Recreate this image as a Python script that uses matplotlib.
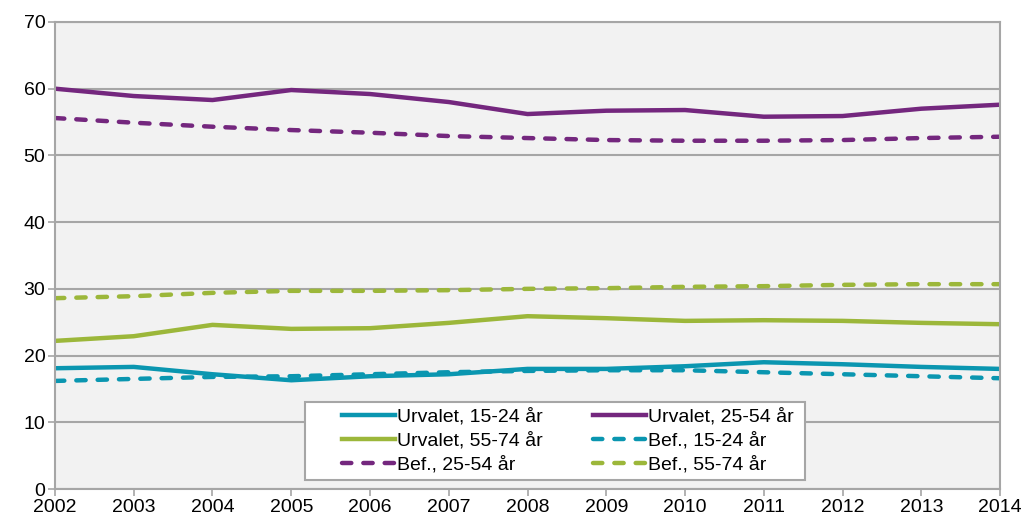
import matplotlib.pyplot as plt
from matplotlib.patches import Rectangle

plt.rcParams['font.family'] = ['Liberation Sans', 'DejaVu Sans']

years = list(range(2002, 2015))

# Andel (%) per grupp
urv_15_24 = [18.1, 18.3, 17.2, 16.3, 16.9, 17.2, 18.0, 18.0, 18.4, 19.0, 18.7, 18.3, 18.0]
urv_25_54 = [60.0, 58.9, 58.3, 59.8, 59.2, 58.0, 56.2, 56.7, 56.8, 55.8, 55.9, 57.0, 57.6]
urv_55_74 = [22.2, 22.9, 24.6, 24.0, 24.1, 24.9, 25.9, 25.6, 25.2, 25.3, 25.2, 24.9, 24.7]
bef_15_24 = [16.2, 16.5, 16.8, 16.9, 17.2, 17.5, 17.7, 17.8, 17.8, 17.5, 17.2, 16.9, 16.6]
bef_25_54 = [55.6, 54.9, 54.3, 53.8, 53.4, 52.9, 52.6, 52.3, 52.2, 52.2, 52.3, 52.6, 52.8]
bef_55_74 = [28.6, 28.9, 29.4, 29.7, 29.7, 29.8, 30.0, 30.1, 30.3, 30.4, 30.6, 30.7, 30.7]

teal = '#0A96B0'
purple = '#74277E'
green = '#9CB73A'

fig = plt.figure(figsize=(10.24, 5.23), dpi=100)
ax = fig.add_axes([0.0537, 0.065, 0.9229, 0.893])
ax.set_facecolor('#F2F2F2')

lw = 3.2
dash = (2.1, 2.7)
h1, = ax.plot(years, urv_15_24, color=teal, lw=lw, label='Urvalet, 15-24 år')
h2, = ax.plot(years, urv_25_54, color=purple, lw=lw, label='Urvalet, 25-54 år')
h3, = ax.plot(years, urv_55_74, color=green, lw=lw, label='Urvalet, 55-74 år')
h4, = ax.plot(years, bef_15_24, color=teal, lw=lw, dashes=dash, dash_capstyle='round', label='Bef., 15-24 år')
h5, = ax.plot(years, bef_25_54, color=purple, lw=lw, dashes=dash, dash_capstyle='round', label='Bef., 25-54 år')
h6, = ax.plot(years, bef_55_74, color=green, lw=lw, dashes=dash, dash_capstyle='round', label='Bef., 55-74 år')

ax.set_xlim(2002, 2014)
ax.set_ylim(0, 70)
ax.set_xticks(years)
ax.set_yticks(range(0, 71, 10))
ax.yaxis.grid(True, color='#A6A6A6', lw=1.5)
ax.set_axisbelow(True)
for s in ax.spines.values():
    s.set_color('#A6A6A6')
    s.set_linewidth(1.5)
ax.tick_params(axis='both', labelsize=14, color='#A6A6A6', length=5, width=1.2, pad=2)

# legend box drawn separately so the entries can sit indented inside it
ax.add_patch(Rectangle((0.2646, 0.0193), 0.5291, 0.167, transform=ax.transAxes,
                       facecolor='white', edgecolor='#A6A6A6', lw=1.5, zorder=4))

# legend order row-wise: fill columns manually
order = [h1, h3, h5, h2, h4, h6]
leg = ax.legend(order, [h.get_label() for h in order],
                ncol=2, loc='center left', bbox_to_anchor=(0.3037, 0.1028, 0.478, 0),
                mode='expand', fontsize=14, handlelength=2.7, handletextpad=0.12,
                labelspacing=0.33, borderpad=0, borderaxespad=0, frameon=False)
leg.set_zorder(5)

plt.savefig('out.png', dpi=100)
